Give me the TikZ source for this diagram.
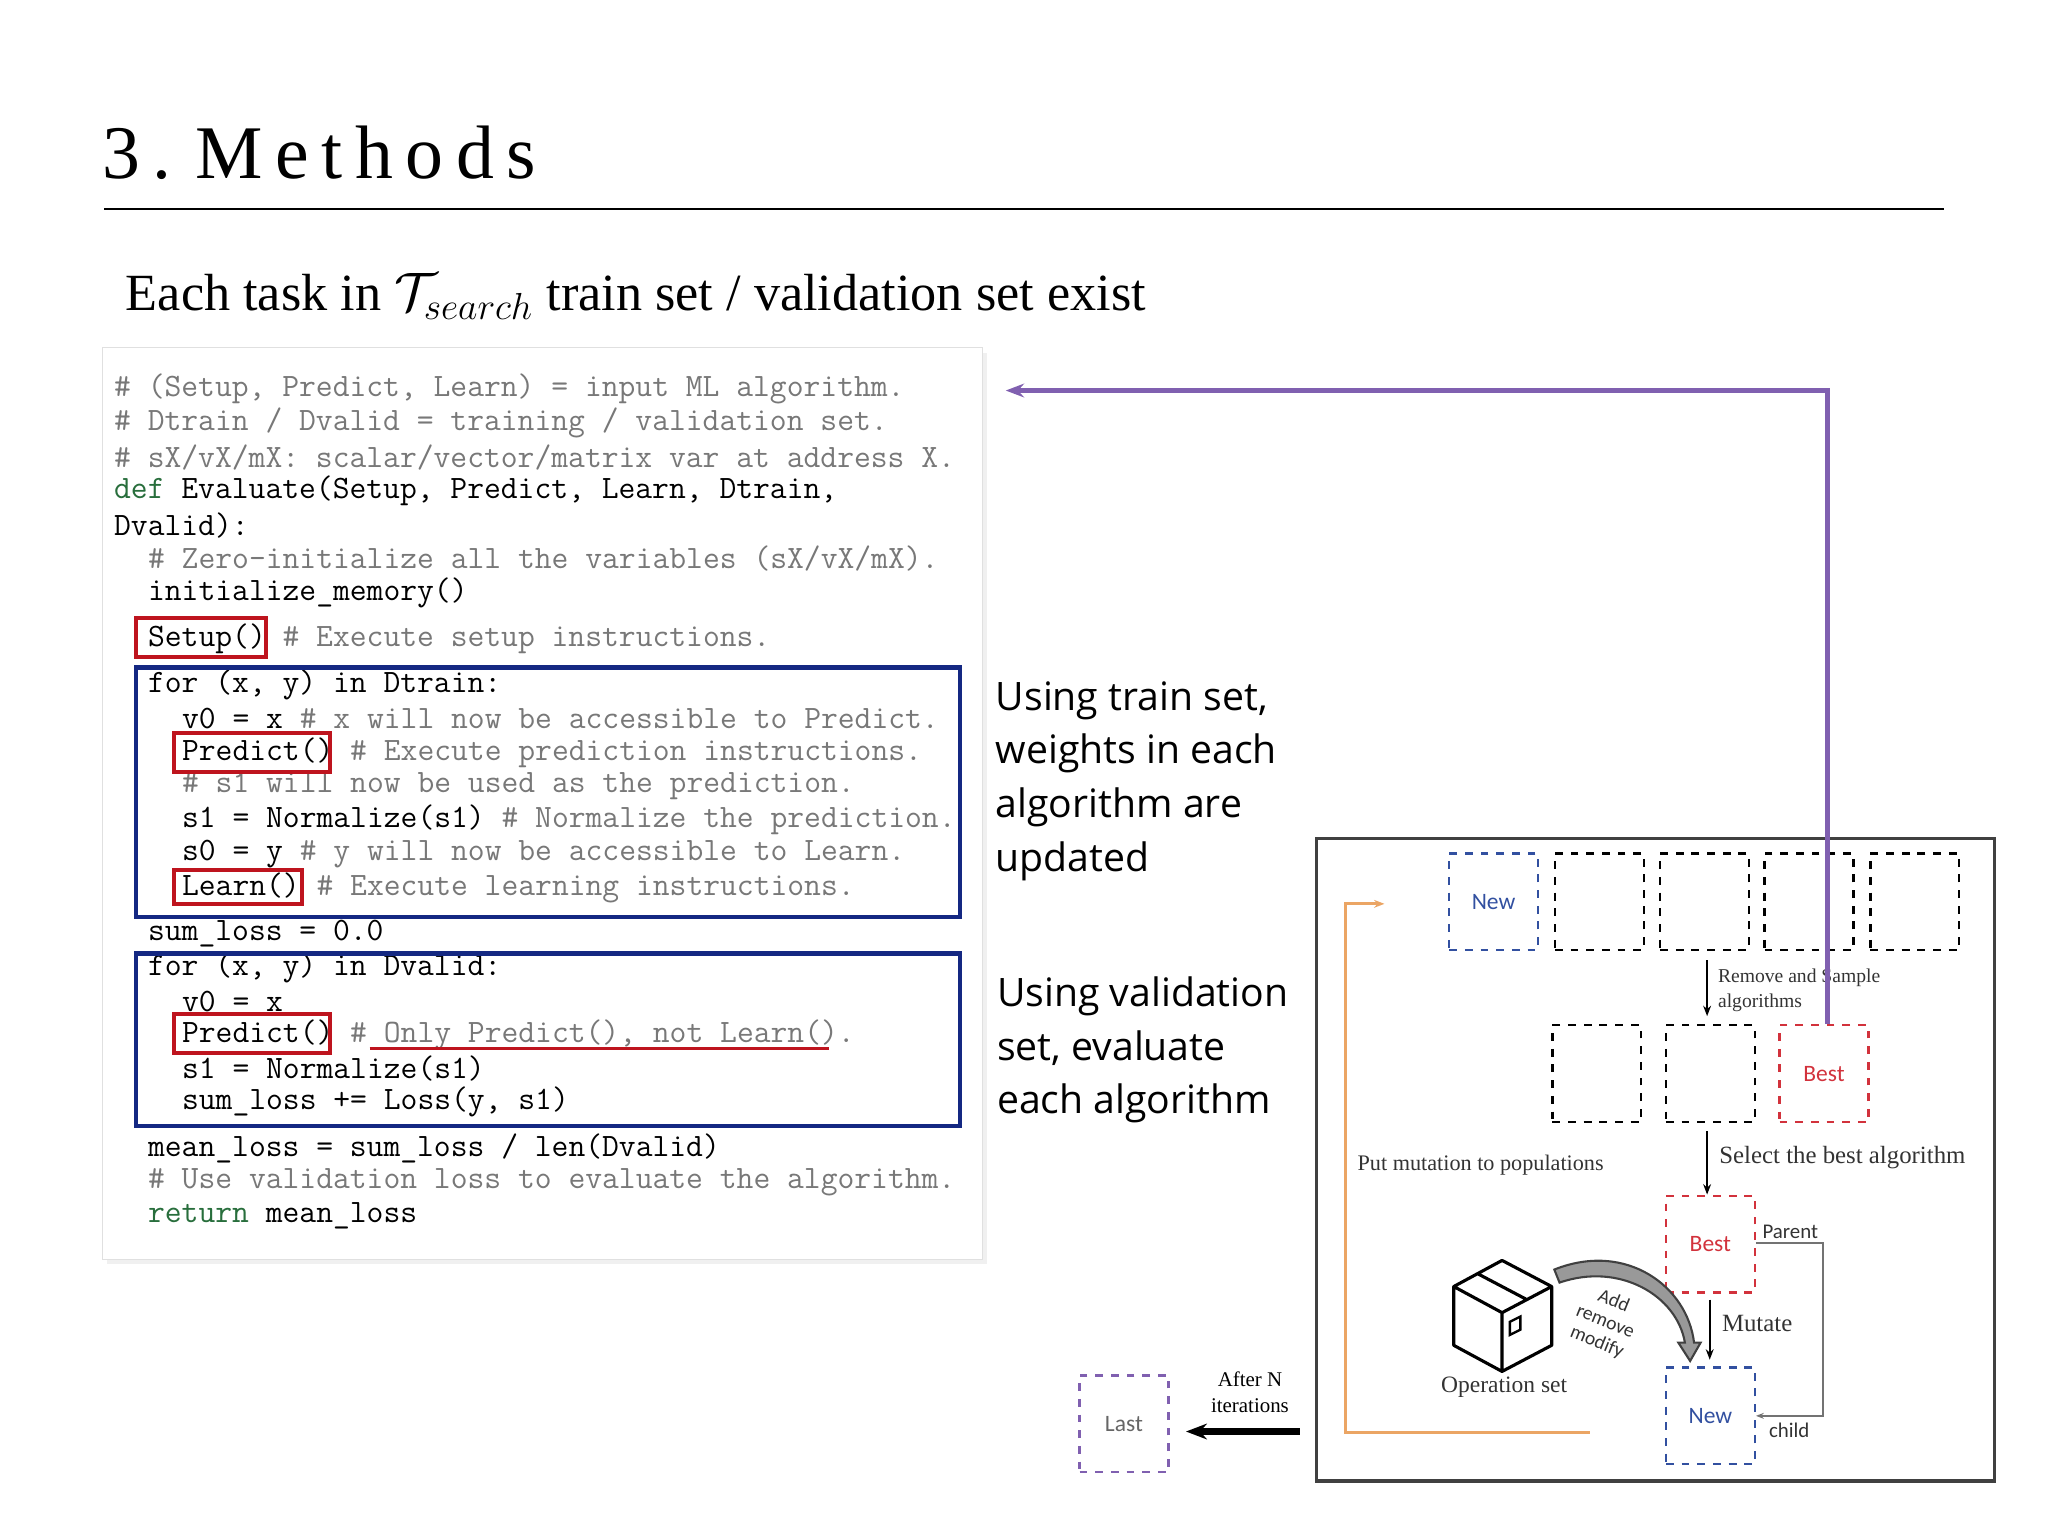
\documentclass[tikz,border=0pt]{standalone}
\usepackage{fontspec}
\setmainfont{Liberation Serif}
\newfontfamily\osans{Open Sans}
\newfontfamily\carl{Carlito}
\usetikzlibrary{arrows.meta,shapes.arrows}
\definecolor{cmt}{RGB}{120,120,120}
\definecolor{kw}{RGB}{40,110,60}
\definecolor{bbl}{RGB}{20,40,130}
\definecolor{rdb}{RGB}{190,20,30}
\definecolor{purp}{RGB}{128,96,176}
\definecolor{orng}{RGB}{235,165,100}
\definecolor{dblue}{RGB}{50,80,160}
\definecolor{dred}{RGB}{210,50,60}
\begin{document}
\begin{tikzpicture}[x=0.5pt,y=-0.5pt,
  cl/.style={anchor=west,inner sep=0pt,font=\ttfamily\fontsize{12.5}{13}\selectfont},
  cmline/.style={cl,text=cmt},
  redbox/.style={draw=rdb,line width=1.5pt},
  bluebox/.style={draw=bbl,line width=1.6pt},
  pop/.style={draw,dashed,line width=0.9pt,minimum width=34pt,minimum height=37pt,inner sep=0pt,font=\carl\fontsize{9}{10}\selectfont},
  sml/.style={anchor=west,inner sep=0pt,font=\fontsize{8}{9}\selectfont,text=black!80},
  side/.style={anchor=west,inner sep=0pt,align=left,font=\osans\fontsize{15}{20.5}\selectfont},
  arr/.style={-{Stealth[length=4pt]},line width=0.8pt}]
\useasboundingbox (0,0) rectangle (1568,1176);
% title
\node[anchor=west,inner sep=0pt,font=\fontsize{29}{34}\selectfont] (title) at (78,117) {3\,.\hspace{9pt}M\,e\,t\,h\,o\,d\,s};
\draw[line width=0.6pt] (80,160) -- (1488,160);
\node[anchor=west,inner sep=0pt,font=\fontsize{20}{24}\selectfont] (sub) at (96,227) {Each task in $\mathcal{T}_{search}$ train set / validation set exist};
% code panel
\fill[black!6] (82,270) rectangle (756,968);
\node[draw=black!12,fill=white,minimum width=337pt,minimum height=349pt,inner sep=0pt,anchor=north west] (panel) at (78,266) {};
\node[cmline] (l1) at (87,298) {\# (Setup, Predict, Learn) = input ML algorithm.};
\node[cmline] (l2) at (87,324) {\# Dtrain / Dvalid = training / validation set.};
\node[cmline] (l3) at (87,350) {\# sX/vX/mX: scalar/vector/matrix var at address X.};
\node[cl] (l4) at (87,376) {\textcolor{kw}{def} Evaluate(Setup, Predict, Learn, Dtrain,};
\node[cl] (l5) at (87,402) {Dvalid):};
\node[cmline] (l6) at (113,428) {\# Zero-initialize all the variables (sX/vX/mX).};
\node[cl] (l7) at (113,454) {initialize\_memory()};
\node[cl] (l8) at (113,489) {Setup() \textcolor{cmt}{\# Execute setup instructions.}};
\node[cl] (l9) at (113,524) {for (x, y) in Dtrain:};
\node[cl] (l10) at (139,550) {v0 = x \textcolor{cmt}{\# x will now be accessible to Predict.}};
\node[cl] (l11) at (139,576) {Predict() \textcolor{cmt}{\# Execute prediction instructions.}};
\node[cmline] (l12) at (139,602) {\# s1 will now be used as the prediction.};
\node[cl] (l13) at (139,628) {s1 = Normalize(s1) \textcolor{cmt}{\# Normalize the prediction.}};
\node[cl] (l14) at (139,654) {s0 = y \textcolor{cmt}{\# y will now be accessible to Learn.}};
\node[cl] (l15) at (139,680) {Learn() \textcolor{cmt}{\# Execute learning instructions.}};
\node[cl] (l16) at (113,715) {sum\_loss = 0.0};
\node[cl] (l17) at (113,741) {for (x, y) in Dvalid:};
\node[cl] (l18) at (139,767) {v0 = x};
\node[cl] (l19) at (139,792) {Predict() \textcolor{cmt}{\# Only Predict(), not Learn().}};
\node[cl] (l20) at (139,818) {s1 = Normalize(s1)};
\node[cl] (l21) at (139,844) {sum\_loss += Loss(y, s1)};
\node[cl] (l22) at (113,879) {mean\_loss = sum\_loss / len(Dvalid)};
\node[cmline] (l23) at (113,905) {\# Use validation loss to evaluate the algorithm.};
\node[cl] (l24) at (113,931) {\textcolor{kw}{return} mean\_loss};
\draw[redbox] (104,473) rectangle (204,503);
\draw[bluebox] (104,511) rectangle (735,702);
\draw[redbox] (133,561) rectangle (253,591);
\draw[redbox] (133,666) rectangle (231,692);
\draw[bluebox] (104,730) rectangle (735,862);
\draw[redbox] (133,776) rectangle (253,806);
\draw[rdb,line width=1.2pt] (283,803) -- (635,803);
% side texts
\node[side] (t1) at (762,598) {Using train set,\\weights in each\\algorithm are\\updated};
\node[side] (t2) at (763,804) {Using validation\\set, evaluate\\each algorithm};
% right panel
\draw[line width=1.3pt,black!75] (1008,642) rectangle (1527,1134);
\node[pop,draw=dblue,text=dblue] (n1) at (1143.5,690.5) {New};
\node[pop] (n2) at (1224.5,690.5) {};
\node[pop] (n3) at (1305,690.5) {};
\node[pop] (n4) at (1385,690.5) {};
\node[pop] (n5) at (1466,690.5) {};
\node[pop] (m1) at (1222.5,822) {};
\node[pop] (m2) at (1309.5,822) {};
\node[pop,draw=dred,text=dred] (m3) at (1396.5,822) {Best};
\node[pop,draw=dred,text=dred] (b) at (1309.5,952.5) {Best};
\node[pop,draw=dblue,text=dblue] (nw) at (1309.5,1084) {New};
\coordinate (a1) at (1307,735);
\coordinate (a2) at (1307,778);
\draw[arr] (a1) -- (a2);
\node[sml,align=left,font=\fontsize{7.5}{9.5}\selectfont] (rs) at (1315,758) {Remove and Sample\\algorithms};
\coordinate (s1) at (1307,866);
\draw[arr] (s1) -- (b.north -| s1);
\node[sml,font=\fontsize{9.5}{11}\selectfont] (sel) at (1316,886) {Select the best algorithm};
\node[sml,font=\fontsize{8.5}{10}\selectfont] (put) at (1039,892) {Put mutation to populations};
\coordinate (mu) at (1309,995);
\coordinate (mu2) at (1309,1041);
\draw[arr] (mu) -- (mu2);
\node[sml,font=\fontsize{9.5}{11}\selectfont] (mt) at (1318,1013) {Mutate};
\coordinate (p1) at (1396,952);
\coordinate (p2) at (1396,1084);
\draw[black!55,line width=0.8pt,-{Stealth[length=3pt]}] (b.east |- p1) -- (p1) -- (p2) -- (nw.east |- p2);
\node[sml,font=\carl\fontsize{8}{9}\selectfont] (par) at (1349,943) {Parent};
\node[sml,font=\carl\fontsize{8}{9}\selectfont] (ch) at (1354,1095) {child};
% orange loop
\coordinate (o1) at (1217,1097);
\coordinate (o2) at (1030,1097);
\coordinate (o3) at (1030,692);
\coordinate (o4) at (1060,692);
\draw[orng,line width=1.2pt,-{Stealth[length=4pt]}] (o1) -- (o2) -- (o3) -- (o4);
% purple loop
\coordinate (q1) at (1399,299);
\coordinate (q2) at (770,299);
\draw[purp,line width=1.8pt,-{Stealth[length=7pt]}] (m3.north -| q1) -- (q1) -- (q2);
% cube
\draw[line width=1.2pt,line join=round] (1150,965) -- (1113,985) -- (1150,1005) -- (1188,985) -- cycle
  (1113,985) -- (1113,1030) -- (1150,1050) -- (1188,1030) -- (1188,985)
  (1150,1005) -- (1150,1050)
  (1131,975) -- (1169,995);
\draw[line width=0.9pt] (1156,1012) -- (1164,1008) -- (1164,1018) -- (1156,1022) -- cycle;
\node[sml,font=\fontsize{9}{10}\selectfont] (op) at (1103,1062) {Operation set};
% curved arrow
\draw[black!75,line width=0.8pt,fill=black!40] (1190,972) .. controls (1245,950) and (1292,985) .. (1297,1028) -- (1302,1028) -- (1294,1042) -- (1285,1028) -- (1290,1028) .. controls (1284,992) and (1240,966) .. (1194,982) -- cycle;
\node[inner sep=0pt,align=center,rotate=-22,font=\carl\fontsize{7.5}{8.5}\selectfont,text=black!80] (arm) at (1229,1012) {Add\\remove\\modify};
% last
\node[pop,draw=purp,text=black!60] (last) at (860.5,1090) {Last};
\coordinate (la) at (995,1096);
\coordinate (lb) at (908,1096);
\draw[line width=2.6pt,-{Stealth[length=8pt]}] (la) -- (lb);
\node[inner sep=0pt,align=center,font=\fontsize{8}{10}\selectfont] (an) at (957,1066) {After N\\iterations};
\end{tikzpicture}
\end{document}
